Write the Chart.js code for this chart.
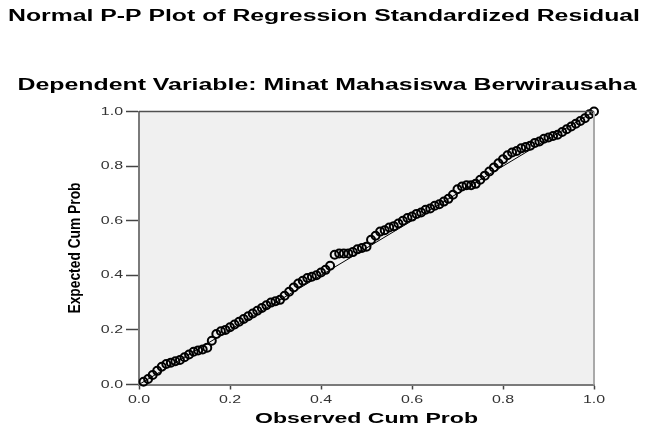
<!DOCTYPE html>
<html>
<head>
<meta charset="utf-8">
<script src="https://cdn.jsdelivr.net/npm/chart.js@4.4.0/dist/chart.umd.min.js"></script>
<style>
  html, body { margin: 0; padding: 0; background: #fff; }
  #wrap { width: 645px; height: 430px; }
</style>
</head>
<body>
<div id="wrap"><canvas id="ppChart" width="645" height="430"></canvas></div>
<script>
// texts
const chartTitle = 'Normal P-P Plot of Regression Standardized Residual';
const chartSubtitle = 'Dependent Variable: Minat Mahasiswa Berwirausaha';
const xAxisTitle = 'Observed Cum Prob';
const yAxisTitle = 'Expected Cum Prob';
const tickLabels = ['0.0', '0.2', '0.4', '0.6', '0.8', '1.0'];

// observed vs expected cumulative probability
const observedCumProb = [
  0.01, 0.02, 0.03, 0.04, 0.05, 0.06, 0.07, 0.08, 0.09, 0.10,
  0.11, 0.12, 0.13, 0.14, 0.15, 0.16, 0.17, 0.18, 0.19, 0.20,
  0.21, 0.22, 0.23, 0.24, 0.25, 0.26, 0.27, 0.28, 0.29, 0.30,
  0.31, 0.32, 0.33, 0.34, 0.35, 0.36, 0.37, 0.38, 0.39, 0.40,
  0.41, 0.42, 0.43, 0.44, 0.45, 0.46, 0.47, 0.48, 0.49, 0.50,
  0.51, 0.52, 0.53, 0.54, 0.55, 0.56, 0.57, 0.58, 0.59, 0.60,
  0.61, 0.62, 0.63, 0.64, 0.65, 0.66, 0.67, 0.68, 0.69, 0.70,
  0.71, 0.72, 0.73, 0.74, 0.75, 0.76, 0.77, 0.78, 0.79, 0.80,
  0.81, 0.82, 0.83, 0.84, 0.85, 0.86, 0.87, 0.88, 0.89, 0.90,
  0.91, 0.92, 0.93, 0.94, 0.95, 0.96, 0.97, 0.98, 0.99, 1.00
];
const expectedCumProb = [
  0.010, 0.020, 0.035, 0.050, 0.065, 0.075, 0.080, 0.085, 0.090, 0.100,
  0.110, 0.120, 0.125, 0.128, 0.135, 0.160, 0.185, 0.195, 0.200, 0.210,
  0.220, 0.230, 0.240, 0.250, 0.260, 0.270, 0.280, 0.290, 0.300, 0.305,
  0.310, 0.325, 0.340, 0.355, 0.370, 0.380, 0.390, 0.395, 0.400, 0.410,
  0.420, 0.435, 0.475, 0.480, 0.480, 0.480, 0.485, 0.495, 0.500, 0.505,
  0.530, 0.545, 0.560, 0.565, 0.575, 0.580, 0.590, 0.600, 0.610, 0.615,
  0.625, 0.630, 0.640, 0.645, 0.655, 0.660, 0.670, 0.680, 0.695, 0.715,
  0.725, 0.730, 0.730, 0.735, 0.750, 0.765, 0.780, 0.795, 0.810, 0.825,
  0.840, 0.850, 0.855, 0.865, 0.870, 0.875, 0.885, 0.890, 0.900, 0.905,
  0.910, 0.915, 0.925, 0.935, 0.945, 0.955, 0.965, 0.975, 0.990, 1.000
];
const refLineX = [0, 1];
const refLineY = [0, 1];

const points = observedCumProb.map((x, i) => ({ x: x, y: expectedCumProb[i] }));
const refLine = refLineX.map((x, i) => ({ x: x, y: refLineY[i] }));

// plot frame: grey panel, dark top edge, light right edge
const framePlugin = {
  id: 'frame',
  beforeDraw(chart) {
    const { ctx, chartArea: a } = chart;
    ctx.save();
    ctx.fillStyle = '#fff';
    ctx.fillRect(0, 0, chart.width, chart.height);
    ctx.fillStyle = '#f0f0f0';
    ctx.fillRect(a.left, a.top, a.right - a.left, a.bottom - a.top);
    ctx.restore();
  },
  afterDraw(chart) {
    const { ctx, chartArea: a } = chart;
    ctx.save();
    ctx.strokeStyle = '#a9a9a9';
    ctx.lineWidth = 2;
    ctx.beginPath();
    ctx.moveTo(a.right, a.top);
    ctx.lineTo(a.right, a.bottom);
    ctx.stroke();
    ctx.strokeStyle = '#505050';
    ctx.lineWidth = 1.5;
    ctx.beginPath();
    ctx.moveTo(a.left, a.top);
    ctx.lineTo(a.right, a.top);
    ctx.stroke();
    ctx.restore();
  }
};

// SPSS output is stretched sideways, so the texts are drawn widened
function putText(ctx, text, x, y, font, opts) {
  ctx.save();
  ctx.translate(x, y);
  if (opts.vertical) ctx.rotate(-Math.PI / 2);
  ctx.font = font;
  let sx = opts.stretch || 1;
  if (opts.width) sx = opts.width / ctx.measureText(text).width;
  ctx.scale(sx, 1);
  ctx.fillStyle = opts.color || '#000';
  ctx.textAlign = opts.align || 'center';
  ctx.textBaseline = 'middle';
  ctx.fillText(text, 0, 0);
  ctx.restore();
}

const textPlugin = {
  id: 'titles',
  afterDraw(chart) {
    const { ctx, chartArea: a, scales } = chart;
    const boldFont = 'bold 16px "Liberation Sans", Arial';
    putText(ctx, chartTitle, 324, 17, boldFont, { width: 632 });
    putText(ctx, chartSubtitle, 327, 86, boldFont, { width: 619 });
    putText(ctx, xAxisTitle, (a.left + a.right) / 2, 419, 'bold 15px "Liberation Sans", Arial', { width: 223 });
    putText(ctx, yAxisTitle, 76, (a.top + a.bottom) / 2, 'bold 16px "Liberation Sans", Arial', { width: 131, vertical: true });

    // tick labels at the positions the library's scales give
    const tf = '11px "Liberation Sans", Arial';
    scales.x.ticks.forEach((t, i) => {
      putText(ctx, tickLabels[i], scales.x.getPixelForValue(t.value), 400, tf, { stretch: 1.45, color: '#333' });
    });
    scales.y.ticks.forEach((t, i) => {
      putText(ctx, tickLabels[i], 123, scales.y.getPixelForValue(t.value), tf, { stretch: 1.45, color: '#333', align: 'right' });
    });
  }
};

new Chart(document.getElementById('ppChart'), {
  type: 'scatter',
  data: {
    datasets: [
      {
        type: 'line',
        data: refLine,
        borderColor: '#000',
        borderWidth: 1,
        pointRadius: 0,
        fill: false,
        order: 2
      },
      {
        data: points,
        borderColor: '#000',
        backgroundColor: 'rgba(0,0,0,0)',
        borderWidth: 2,
        pointRadius: 4,
        pointHoverRadius: 4,
        clip: false,
        order: 1
      }
    ]
  },
  plugins: [framePlugin, textPlugin],
  options: {
    responsive: false,
    animation: false,
    devicePixelRatio: 1,
    layout: { padding: { top: 111.5, right: 51, left: 0, bottom: 0 } },
    plugins: {
      legend: { display: false },
      tooltip: { enabled: false },
      title: { display: false }
    },
    scales: {
      x: {
        type: 'linear',
        min: 0,
        max: 1,
        afterFit: s => { s.height = 45.5; },
        border: { display: true, color: '#7a7a7a', width: 2 },
        grid: { display: true, drawOnChartArea: false, drawTicks: true, tickLength: 5, tickWidth: 1.5, tickColor: '#444' },
        ticks: { stepSize: 0.2, display: false }
      },
      y: {
        type: 'linear',
        min: 0,
        max: 1,
        afterFit: s => { s.width = 139; },
        border: { display: true, color: '#7a7a7a', width: 2 },
        grid: { display: true, drawOnChartArea: false, drawTicks: true, tickLength: 13, tickWidth: 1.5, tickColor: '#444' },
        ticks: { stepSize: 0.2, display: false }
      }
    }
  }
});
</script>
</body>
</html>
